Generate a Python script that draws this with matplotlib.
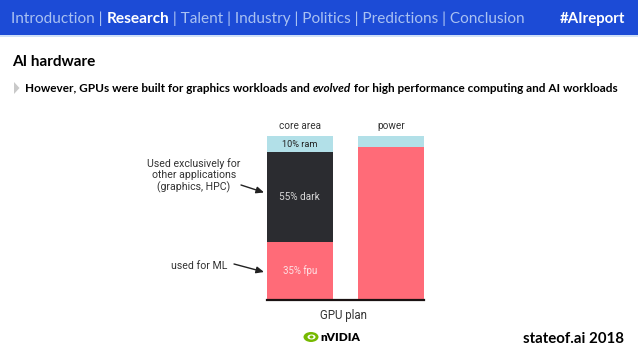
import matplotlib
matplotlib.use('Agg')
import matplotlib.pyplot as plt
from matplotlib.patches import Rectangle, Polygon, Ellipse
from matplotlib.text import Annotation
import numpy as np

W, H = 638, 359

# data
bars = ['core area', 'power']
fpu = [35, 93.5]
dark = [55, 0]
ram = [10, 6.5]
seg_labels = ['35% fpu', '55% dark', '10% ram']

nav_before = 'Introduction | '
nav_active = 'Research'
nav_after = ' | Talent | Industry | Politics | Predictions | Conclusion'
subtitle_parts = ['However, GPUs were built for graphics workloads and ', 'evolved',
                  ' for high performance computing and AI workloads']

BLUE = '#1c4bd6'
RED = '#ff6b78'
DARK = '#2b2c30'
LIGHT = '#b2e0e8'

HEAD_FONT = ['Lato', 'DejaVu Sans']
CHART_FONT = ['Roboto', 'DejaVu Sans']


def fx(x):
    return x / W


def fy(y):
    return 1 - y / H


def chain(prev, s, **kw):
    # place a text right after the previous one, on the same line
    a = Annotation(s, xy=(1, 0), xycoords=prev, va='bottom', ha='left', **kw)
    fig.add_artist(a)
    return a


fig = plt.figure(figsize=(W / 100, H / 100), dpi=100)
fig.patch.set_facecolor('white')

# banner
fig.patches.append(Rectangle((0, fy(35)), 1, 35 / H, transform=fig.transFigure,
                             facecolor=BLUE, edgecolor='none', zorder=0))
fig.patches.append(Rectangle((0, fy(36.5)), 1, 1.5 / H, transform=fig.transFigure,
                             facecolor='#cfe0f7', edgecolor='none', zorder=0))

t = fig.text(fx(11), fy(18.5), nav_before, color='#a9c1f2', fontsize=11.1,
             family=HEAD_FONT, va='center', ha='left')
t = chain(t, nav_active, color='white', fontsize=11.1, family=HEAD_FONT, fontweight='bold')
t = chain(t, nav_after, color='#a9c1f2', fontsize=11.1, family=HEAD_FONT)
fig.text(fx(625), fy(18.5), '#AIreport', color='white', fontsize=10.8,
         family=HEAD_FONT, fontweight='bold', va='center', ha='right')

# title and subtitle
fig.text(fx(12), fy(62), 'AI hardware', color='black', fontsize=11,
         family=HEAD_FONT, fontweight='bold', va='center', ha='left')
fig.patches.append(Polygon([(fx(14), fy(82)), (fx(14), fy(94)), (fx(19.5), fy(88))],
                           closed=True, transform=fig.transFigure,
                           facecolor='#c9c9c9', edgecolor='none'))
t = fig.text(fx(25), fy(88), subtitle_parts[0], color='black', fontsize=8.5,
             family=HEAD_FONT, fontweight='bold', va='center', ha='left')
t = chain(t, subtitle_parts[1], color='black', fontsize=8.5, family=HEAD_FONT,
          fontweight='bold', style='italic')
chain(t, subtitle_parts[2], color='black', fontsize=8.5, family=HEAD_FONT, fontweight='bold')

# bar chart
x0, x1 = 266.7, 424.0
ytop, ybot = 136, 299.5
ax = fig.add_axes([fx(x0), fy(ybot), (x1 - x0) / W, (ybot - ytop) / H])
pos = np.arange(len(bars))
width = 0.723
ax.bar(pos, fpu, width, color=RED)
ax.bar(pos, dark, width, bottom=fpu, color=DARK)
ax.bar(pos, ram, width, bottom=np.add(fpu, dark), color=LIGHT)
ax.set_xlim(-width / 2, 1 + width / 2)
ax.set_ylim(0, 100)
for s in ['top', 'left', 'right']:
    ax.spines[s].set_visible(False)
ax.spines['bottom'].set_color('#1a1212')
ax.spines['bottom'].set_linewidth(1.6)
ax.set_xticks([])
ax.set_yticks([])
ax.patch.set_alpha(0)

ax.text(0, fpu[0] / 2, seg_labels[0], color='#fde3e6', fontsize=6.9,
        family=CHART_FONT, ha='center', va='center')
ax.text(0, fpu[0] + dark[0] / 2, seg_labels[1], color='#d8d8d8', fontsize=7.2,
        family=CHART_FONT, ha='center', va='center')
ax.text(0, fpu[0] + dark[0] + ram[0] / 2, seg_labels[2], color='#222222', fontsize=6.6,
        family=CHART_FONT, ha='center', va='center')
for i, name in enumerate(bars):
    ax.text(i, 103, name, color='#333333', fontsize=7.2, family=CHART_FONT,
            ha='center', va='bottom')

fig.text(fx(344), fy(315), 'GPU plan', color='#333333', fontsize=8.3,
         family=CHART_FONT, ha='center', va='center')

# annotations
fig.text(fx(194), fy(175.5), 'Used exclusively for\nother applications\n(graphics, HPC)',
         color='#333333', fontsize=7.6, family=CHART_FONT, ha='center', va='center',
         multialignment='center', linespacing=1.1)
fig.text(fx(199), fy(266), 'used for ML', color='#333333', fontsize=7.6,
         family=CHART_FONT, ha='center', va='center')
arrow = dict(arrowstyle='-|>,head_length=0.45,head_width=0.2', color='#222222', lw=1.0,
             shrinkA=0, shrinkB=0)
fig.add_artist(Annotation('', xy=(fx(264), fy(192.5)), xycoords='figure fraction',
                          xytext=(fx(241), fy(185)), textcoords='figure fraction',
                          arrowprops=arrow))
fig.add_artist(Annotation('', xy=(fx(264), fy(272)), xycoords='figure fraction',
                          xytext=(fx(234), fy(264)), textcoords='figure fraction',
                          arrowprops=arrow))

# nvidia logo
lax = fig.add_axes([fx(303), fy(343), 16 / W, 12 / H])
lax.set_xlim(0, 16)
lax.set_ylim(0, 12)
lax.axis('off')
lax.add_patch(Ellipse((8, 6), 15, 10, facecolor='#76b900', edgecolor='none'))
lax.add_patch(Ellipse((8.5, 6), 8, 5, facecolor='white', edgecolor='none'))
lax.add_patch(Ellipse((8.5, 6), 4, 3, facecolor='#76b900', edgecolor='none'))
fig.text(fx(320), fy(337.5), 'nVIDIA', color='black', fontsize=8.5,
         family=HEAD_FONT, fontweight='heavy', ha='left', va='center')

# footer
fig.text(fx(624), fy(339), 'stateof.ai 2018', color='black', fontsize=10.8,
         family=HEAD_FONT, fontweight='bold', ha='right', va='center')

fig.savefig('out.png', dpi=100, facecolor='white')
